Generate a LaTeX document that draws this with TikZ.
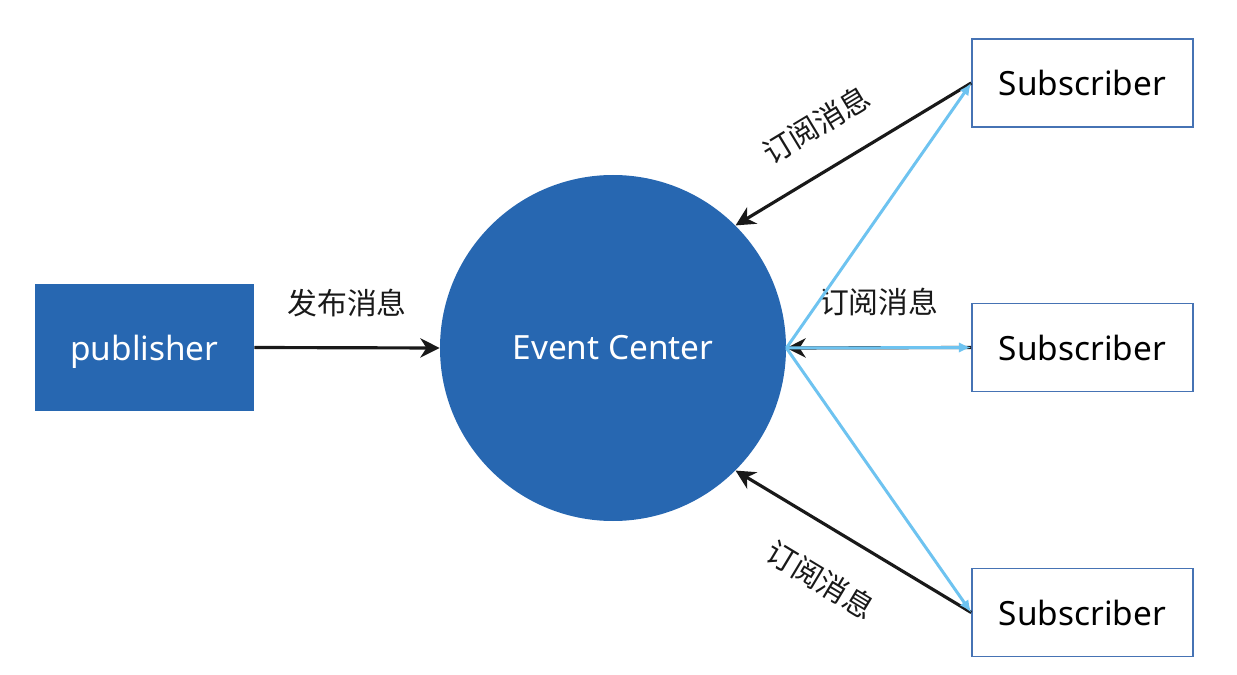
\documentclass[tikz,border=0pt]{standalone}
\usepackage{fontspec}
\setmainfont{Noto Sans}
\newfontfamily\cjk{Noto Sans CJK SC}
\usetikzlibrary{arrows.meta}
\definecolor{ecblue}{RGB}{39,103,177}
\definecolor{boxline}{RGB}{70,115,180}
\definecolor{lightln}{RGB}{110,195,240}
\tikzset{
  pubbox/.style={rectangle, fill=ecblue, draw=none, minimum width=219*0.02cm, minimum height=127*0.02cm, inner sep=0pt, text=white, font=\fontsize{19}{22}\selectfont},
  centre/.style={circle, fill=ecblue, draw=none, minimum size=346*0.02cm, inner sep=0pt, text=white, font=\fontsize{19}{22}\selectfont},
  subbox/.style={rectangle, fill=white, draw=boxline, line width=0.9pt, minimum width=221*0.02cm, minimum height=88*0.02cm, inner sep=0pt, text=black, font=\fontsize{19}{22}\selectfont},
  blackarrow/.style={draw=black!90, line width=1.8pt, -{Stealth[length=11pt,width=11pt,inset=3.5pt]}},
  bluearrow/.style={draw=lightln, line width=1.7pt, -{Latex[length=7pt,width=6pt]}},
  msg/.style={font=\cjk\fontsize{17}{18}\selectfont, inner sep=0pt, text=black!90}
}
\begin{document}
\begin{tikzpicture}[x=0.02cm,y=-0.02cm]
\useasboundingbox (0,0) rectangle (1237,675);
\node[pubbox] (pub) at (144.5,347.5) {\raisebox{-2.5pt}[\height][\depth]{publisher}};
\node[centre] (ec) at (613,348) {Event Center};
\node[subbox] (s1) at (1082.5,83) {Subscriber};
\node[subbox] (s2) at (1082.5,347.5) {Subscriber};
\node[subbox] (s3) at (1082.5,612.5) {Subscriber};
\draw[blackarrow] (pub.east) -- node[msg, midway, above=16.5pt] {发布消息} (ec.west);
\draw[blackarrow] (s1.west) -- node[msg, pos=0.56, sloped, above=16.5pt] {订阅消息} (ec.45);
\draw[blackarrow] (s3.west) -- node[msg, pos=0.53, sloped, below=19.5pt] {订阅消息} (ec.-45);
\draw[blackarrow] (s2.west) -- node[msg, midway, above=17pt] {订阅消息} (ec.east);
\draw[bluearrow] (ec.east) -- (s1.west);
\draw[bluearrow] (ec.east) -- (s2.west);
\draw[bluearrow] (ec.east) -- (s3.west);
\end{tikzpicture}
\end{document}
